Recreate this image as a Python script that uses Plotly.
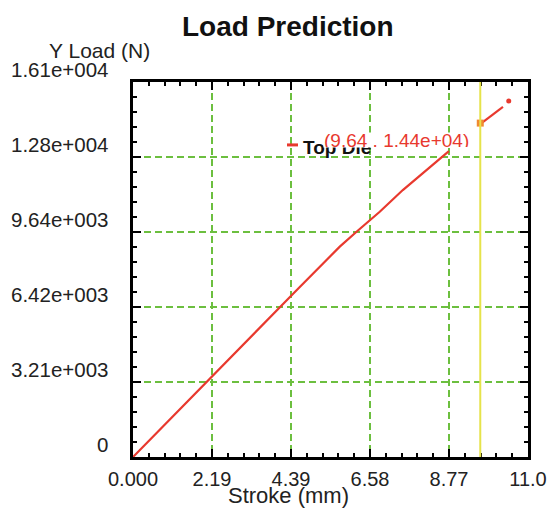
import plotly.graph_objects as go

# ---- data ----
stroke_mm = [0.0, 2.18, 3.24, 3.46, 4.37, 4.63, 5.09, 5.55, 5.74, 6.245, 6.58, 6.85, 7.49,
             8.14, 8.77, None, 9.62, 10.27]
load_n = [0, 3450, 5094, 5449, 6876, 7280, 8004, 8726, 9009, 9700, 10140, 10504, 11432,
          12300, 13100, None, 14239, 14991]
end_x = [10.43]
end_y = [15248]
cursor_x = 9.64
cursor_y = 14300
cursor_label = "(9.64 , 1.44e+04)"
series_name = "Top Die"

x_tickvals = [0.0, 2.193, 4.386, 6.579, 8.772, 10.965]
x_ticktext = ["0.000", "2.19", "4.39", "6.58", "8.77", "11.0"]
y_tickvals = [0, 3212, 6424, 9636, 12848, 16060]
y_ticktext = ["0", "3.21e+003", "6.42e+003", "9.64e+003", "1.28e+004", "1.61e+004"]

W, H = 549, 508
L, R, T, B = 133, 528, 82, 457.5


def px(x):
    return (x - L) / (R - L)


def py(y):
    return (B - y) / (B - T)


FONT = "Liberation Sans, Arial, sans-serif"
RED = "#E8392E"
GRID = "#6CBF3F"

fig = go.Figure()
fig.add_trace(go.Scatter(x=stroke_mm, y=load_n, mode="lines", connectgaps=False,
                         line=dict(color=RED, width=2.2), name=series_name, showlegend=False))
fig.add_trace(go.Scatter(x=end_x, y=end_y, mode="markers",
                         marker=dict(color=RED, size=5), showlegend=False))
fig.add_trace(go.Scatter(x=[cursor_x], y=[cursor_y], mode="markers",
                         marker=dict(color="#F08A30", size=7, symbol="square"), showlegend=False))

# cursor line
fig.add_shape(type="line", xref="x", yref="paper", x0=cursor_x, x1=cursor_x, y0=0, y1=1,
              line=dict(color="#E6E34A", width=2))
# legend glyph
fig.add_shape(type="line", xref="paper", yref="paper", x0=px(287), x1=px(298),
              y0=py(145), y1=py(145), line=dict(color=RED, width=3))

axis_common = dict(
    showline=True, linecolor="black", linewidth=3, mirror="allticks",
    ticks="inside", ticklen=8, tickwidth=2, tickcolor="black",
    showgrid=True, gridcolor=GRID, gridwidth=2, griddash="7px,4px",
    zeroline=False, automargin=False,
)

fig.update_xaxes(range=[0, 10.965], tickvals=x_tickvals, ticktext=x_ticktext,
                 tickfont=dict(family=FONT, size=20, color="#222"),
                 ticklabelstandoff=2,
                 minor=dict(dtick=2.193 / 5, ticks="inside", ticklen=4, tickwidth=1.5,
                            tickcolor="black", showgrid=False),
                 **axis_common)
fig.update_yaxes(range=[0, 16060], tickvals=y_tickvals, ticktext=y_ticktext,
                 showticklabels=False,
                 minor=dict(dtick=3212 / 5, ticks="inside", ticklen=4, tickwidth=1.5,
                            tickcolor="black", showgrid=False),
                 **axis_common)

ann = []
# y tick labels (drawn slightly above their grid lines, like the reference)
for v, t in zip(y_tickvals, y_ticktext):
    ann.append(dict(xref="paper", yref="y", x=px(110), y=v, yshift=13, text=t,
                    showarrow=False, xanchor="right", yanchor="middle",
                    font=dict(family=FONT, size=20.5, color="#222")))
ann += [
    dict(xref="paper", yref="paper", x=px(288), y=py(26), text="<b>Load Prediction</b>",
         showarrow=False, xanchor="center", yanchor="middle",
         font=dict(family=FONT, size=28, color="#111")),
    dict(xref="paper", yref="paper", x=px(99), y=py(50), text="Y Load (N)",
         showarrow=False, xanchor="center", yanchor="middle",
         font=dict(family=FONT, size=21, color="#222")),
    dict(xref="paper", yref="paper", x=px(288), y=py(496), text="Stroke (mm)",
         showarrow=False, xanchor="center", yanchor="middle",
         font=dict(family=FONT, size=22, color="#222")),
    dict(xref="paper", yref="paper", x=px(301), y=py(148), text="<b>" + series_name + "</b>",
         showarrow=False, xanchor="left", yanchor="middle",
         font=dict(family=FONT, size=19, color="#111")),
    dict(xref="paper", yref="paper", x=px(396), y=py(140), text=cursor_label,
         showarrow=False, xanchor="center", yanchor="middle", bgcolor="white",
         height=14, borderpad=0,
         font=dict(family=FONT, size=19, color=RED)),
]

fig.update_layout(
    width=W, height=H,
    margin=dict(l=L, r=W - R, t=T, b=H - B),
    paper_bgcolor="white", plot_bgcolor="white",
    annotations=ann, showlegend=False,
)

fig.write_html("out.html", config={"displayModeBar": False},
               post_script="document.body.style.margin='0';document.body.style.overflow='hidden';")
